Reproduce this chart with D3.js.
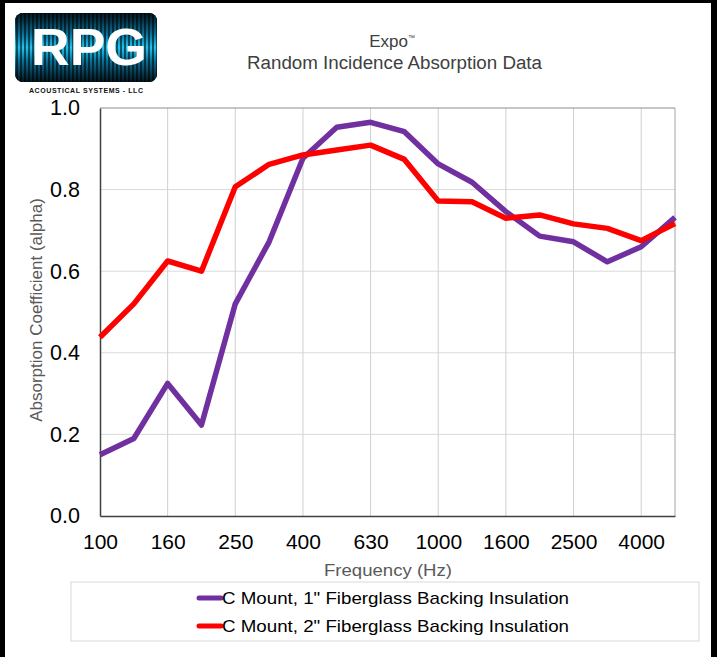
<!DOCTYPE html>
<html>
<head>
<meta charset="utf-8">
<script src="https://cdn.jsdelivr.net/npm/d3@7"></script>
<style>
  html, body { margin: 0; padding: 0; background: #fff; }
  svg { display: block; font-family: Arial, "Liberation Sans", sans-serif; }
</style>
</head>
<body>
<div id="chart"></div>
<script>
// third-octave bands
const freqs = ["100", "125", "160", "200", "250", "315", "400", "500", "630", "800",
  "1000", "1250", "1600", "2000", "2500", "3150", "4000", "5000"];
const freqLabels = ["100", "160", "250", "400", "630", "1000", "1600", "2500", "4000"];
const yTicks = [0, 0.2, 0.4, 0.6, 0.8, 1.0];

const mount1in = [0.15, 0.19, 0.325, 0.223, 0.52, 0.672, 0.877, 0.953, 0.965, 0.942,
  0.863, 0.818, 0.746, 0.686, 0.672, 0.623, 0.66, 0.732];
const mount2in = [0.438, 0.52, 0.625, 0.6, 0.807, 0.862, 0.885, 0.897, 0.909, 0.874,
  0.772, 0.77, 0.73, 0.738, 0.716, 0.705, 0.675, 0.717];

const seriesNames = ["C Mount, 1\" Fiberglass Backing Insulation", "C Mount, 2\" Fiberglass Backing Insulation"];
const seriesColors = ["#7030a0", "#ff0000"];

const W = 717, H = 657;
const margin = { left: 100, right: 42, top: 108, bottom: 141 };

const svg = d3.select("#chart").append("svg").attr("width", W).attr("height", H);

// black frame around the screenshot
svg.append("rect").attr("x", 0).attr("y", 0).attr("width", 5).attr("height", H).attr("fill", "#000");
svg.append("rect").attr("x", 0).attr("y", 0).attr("width", W).attr("height", 3).attr("fill", "#000");
svg.append("rect").attr("x", 711).attr("y", 0).attr("width", 6).attr("height", H).attr("fill", "#000");

// logo
const logo = svg.append("g");
const defs = svg.append("defs");
const grad = defs.append("linearGradient").attr("id", "glow").attr("x1", 0).attr("y1", 0).attr("x2", 0).attr("y2", 1);
grad.append("stop").attr("offset", "0%").attr("stop-color", "#04141c");
grad.append("stop").attr("offset", "30%").attr("stop-color", "#0a6f96");
grad.append("stop").attr("offset", "50%").attr("stop-color", "#22c4f0");
grad.append("stop").attr("offset", "70%").attr("stop-color", "#0a6f96");
grad.append("stop").attr("offset", "100%").attr("stop-color", "#04141c");
const pat = defs.append("pattern").attr("id", "stripes").attr("patternUnits", "userSpaceOnUse")
  .attr("width", 4).attr("height", 10);
pat.append("rect").attr("width", 2).attr("height", 10).attr("fill", "rgba(0,0,0,0.55)");
const clip = defs.append("clipPath").attr("id", "logoclip");
clip.append("rect").attr("x", 15).attr("y", 13).attr("width", 142).attr("height", 69).attr("rx", 8);
logo.append("rect").attr("x", 15).attr("y", 13).attr("width", 142).attr("height", 69).attr("rx", 8).attr("fill", "#061a24");
logo.append("rect").attr("x", 15).attr("y", 13).attr("width", 142).attr("height", 69)
  .attr("clip-path", "url(#logoclip)").attr("fill", "url(#glow)");
logo.append("rect").attr("x", 15).attr("y", 13).attr("width", 142).attr("height", 69)
  .attr("clip-path", "url(#logoclip)").attr("fill", "url(#stripes)");
logo.append("text").attr("x", 89).attr("y", 65).attr("text-anchor", "middle")
  .attr("font-size", 52).attr("font-weight", 900).attr("fill", "#fff")
  .attr("textLength", 116).attr("lengthAdjust", "spacingAndGlyphs").text("RPG");
logo.append("text").attr("x", 86).attr("y", 93).attr("text-anchor", "middle")
  .attr("font-size", 7).attr("font-weight", 900).attr("fill", "#111")
  .attr("textLength", 114).attr("lengthAdjust", "spacing").text("ACOUSTICAL SYSTEMS - LLC");

// title
const title = svg.append("text").attr("x", 392).attr("y", 47).attr("text-anchor", "middle")
  .attr("font-size", 17).attr("fill", "#404040");
title.append("tspan").text("Expo");
title.append("tspan").attr("font-size", 7).attr("dy", -7).text("™");
svg.append("text").attr("x", 394.5).attr("y", 69).attr("text-anchor", "middle")
  .attr("font-size", 18).attr("fill", "#404040")
  .attr("textLength", 295).attr("lengthAdjust", "spacingAndGlyphs")
  .text("Random Incidence Absorption Data");

// scales
const x = d3.scalePoint().domain(freqs).range([margin.left, W - margin.right]);
const y = d3.scaleLinear().domain([0, 1]).range([H - margin.bottom, margin.top]);

// grid
const grid = svg.append("g");
grid.selectAll(".hg").data(yTicks.slice(1, -1)).join("line")
  .attr("x1", margin.left).attr("x2", W - margin.right)
  .attr("y1", (d) => y(d)).attr("y2", (d) => y(d))
  .attr("stroke", "#d9d9d9").attr("stroke-width", 1);
grid.selectAll(".vg").data(freqLabels.slice(1)).join("line")
  .attr("x1", (d) => x(d)).attr("x2", (d) => x(d))
  .attr("y1", y(0)).attr("y2", y(1))
  .attr("stroke", "#d0d0d0").attr("stroke-width", 1);

// plot frame
svg.append("line").attr("x1", margin.left).attr("x2", W - margin.right).attr("y1", y(1)).attr("y2", y(1))
  .attr("stroke", "#8c8c8c");
svg.append("line").attr("x1", W - margin.right).attr("x2", W - margin.right).attr("y1", y(1)).attr("y2", y(0))
  .attr("stroke", "#a6a6a6");

// axes
const xAxis = svg.append("g").attr("transform", `translate(0,${y(0)})`)
  .call(d3.axisBottom(x).tickValues(freqLabels).tickSize(0).tickPadding(18));
xAxis.select(".domain").attr("stroke", "#404040").attr("stroke-width", 1.5);
xAxis.selectAll("text").attr("font-size", 21).attr("fill", "#000").attr("font-family", null);

const yAxis = svg.append("g").attr("transform", `translate(${margin.left},0)`)
  .call(d3.axisLeft(y).tickValues(yTicks).tickFormat(d3.format(".1f")).tickSize(0).tickPadding(20));
yAxis.select(".domain").attr("stroke", "#404040").attr("stroke-width", 1.5);
yAxis.selectAll("text").attr("font-size", 21.5).attr("fill", "#000").attr("font-family", null);

// axis titles
svg.append("text").attr("x", 388).attr("y", 576).attr("text-anchor", "middle")
  .attr("font-size", 17).attr("fill", "#595959")
  .attr("textLength", 128).attr("lengthAdjust", "spacingAndGlyphs").text("Frequency (Hz)");
svg.append("text").attr("transform", "translate(42,310) rotate(-90)").attr("text-anchor", "middle")
  .attr("font-size", 17).attr("fill", "#595959").text("Absorption Coefficient (alpha)");

// lines
const line = d3.line().x((d, i) => x(freqs[i])).y((d) => y(d));
[mount1in, mount2in].forEach((vals, i) => {
  svg.append("path").datum(vals).attr("d", line)
    .attr("fill", "none").attr("stroke", seriesColors[i])
    .attr("stroke-width", 5.5).attr("stroke-linejoin", "round");
});

// legend
const legend = svg.append("g");
legend.append("rect").attr("x", 71).attr("y", 582).attr("width", 628).attr("height", 59)
  .attr("fill", "#fff").attr("stroke", "#d9d9d9");
const item = legend.selectAll(".item").data(seriesNames).join("g")
  .attr("transform", (d, i) => `translate(0,${598 + i * 28})`);
item.append("line").attr("x1", 199).attr("x2", 221).attr("y1", 0).attr("y2", 0)
  .attr("stroke", (d, i) => seriesColors[i]).attr("stroke-width", 5).attr("stroke-linecap", "round");
item.append("text").attr("x", 222).attr("y", 6).attr("font-size", 17).attr("fill", "#000")
  .attr("textLength", 347).attr("lengthAdjust", "spacingAndGlyphs").text((d) => d);
</script>
</body>
</html>
